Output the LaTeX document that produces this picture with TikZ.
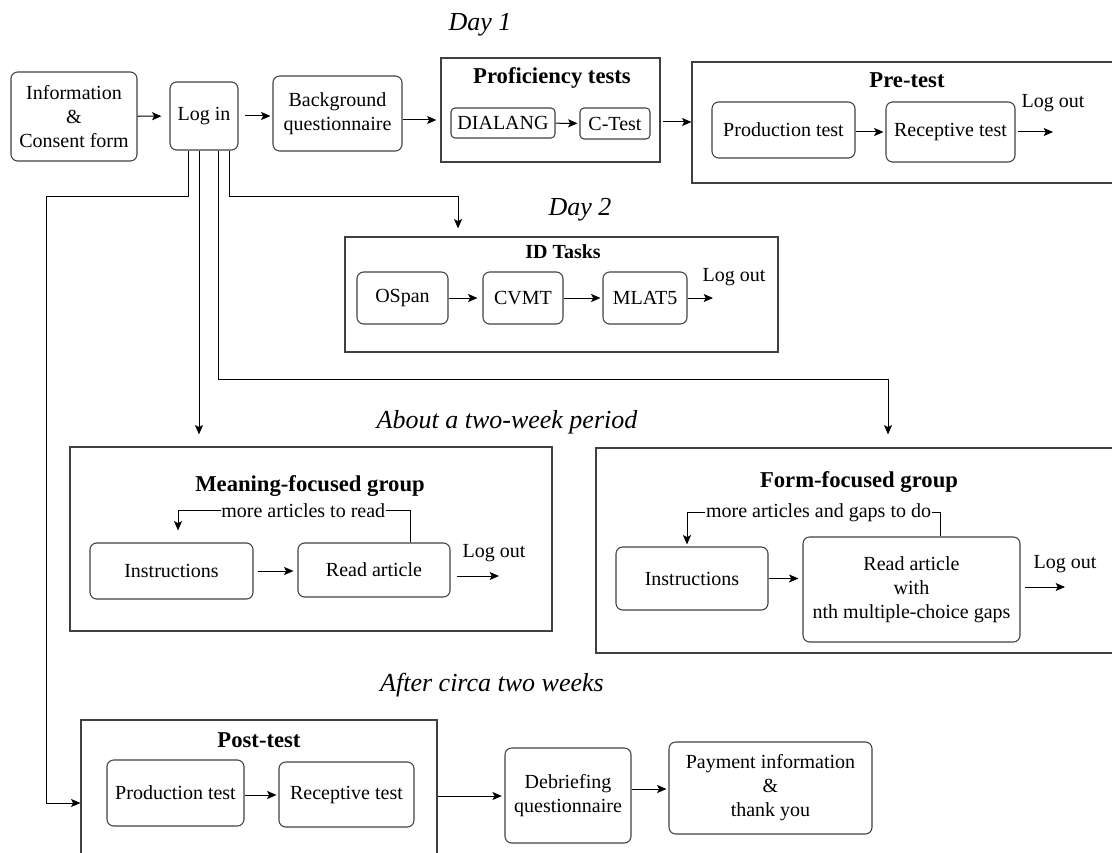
\documentclass[tikz,border=0pt]{standalone}
\usepackage{fontspec}
\setmainfont{Liberation Serif}
\usetikzlibrary{arrows.meta, calc}

\begin{document}
\begin{tikzpicture}[x=0.75pt, y=-0.75pt,
    blk/.style={rectangle, rounded corners=5pt, draw=black!75, line width=0.8pt,
                inner sep=1pt, align=center, font=\fontsize{15}{18}\selectfont},
    grp/.style={rectangle, draw=black!75, line width=0.9pt, inner sep=0pt},
    sz/.style 2 args={minimum width=0.75pt*#1, minimum height=0.75pt*#2},
    gtitle/.style={font=\fontsize{17}{20}\selectfont\bfseries, inner sep=0pt},
    when/.style={font=\fontsize{19.5}{22}\selectfont\itshape, inner sep=0pt},
    lout/.style={font=\fontsize{15}{18}\selectfont, inner sep=0pt},
    loopl/.style={font=\fontsize{15}{18}\selectfont, fill=white, inner sep=0.5pt},
    arr/.style={-{Stealth[length=7pt, width=6pt, inset=1.5pt]}, line width=0.75pt}]
  \useasboundingbox (0,0) rectangle (1112,852);
  \clip (0,0) rectangle (1112,852);

  \node[when] (day1) at (480,25) {Day 1};
  \node[when] (day2) at (580,210) {Day 2};
  \node[when] (span) at (507,422) {About a two-week period};
  \node[when] (later) at (492,685) {After circa two weeks};

  \node[blk, sz={126}{89}] (info) at (74,116.5) {Information\\\&\\Consent form};
  \node[blk, sz={68}{68}] (login) at (204,116) {Log in};
  \node[blk, sz={129}{75}] (bgq) at (337.5,113.5) {Background\\questionnaire};

  \node[grp, sz={219}{104}] (prof) at (550.5,110) {};
  \node[gtitle] (proft) at (552,78) {Proficiency tests};
  \node[blk, sz={104}{30}, rounded corners=3pt] (dial) at (503,123) {DIALANG};
  \node[blk, sz={70}{31}, rounded corners=3pt] (ctest) at (615,123.5) {C-Test};

  \node[grp, sz={438}{121}] (pre) at (911,122.5) {};
  \node[gtitle] (pret) at (907,80) {Pre-test};
  \node[blk, sz={143}{56}] (pprod) at (783.5,130) {Production test};
  \node[blk, sz={129}{60}] (prec) at (950.5,132) {Receptive test};
  \node[lout] (prelo) at (1053,103) {Log out};

  \node[grp, sz={433}{115}] (idt) at (561.5,294.5) {};
  \node[gtitle, font=\fontsize{15}{18}\selectfont\bfseries] (idtt) at (563,252) {ID Tasks};
  \node[blk, sz={91}{52}] (ospan) at (402.5,298) {OSpan};
  \node[blk, sz={80}{52}] (cvmt) at (523,298) {CVMT};
  \node[blk, sz={84}{52}] (mlat) at (645,298) {MLAT5};
  \node[lout] (idlo) at (734,277) {Log out};
  \coordinate (idend) at (713,298);

  \node[grp, sz={482}{184}] (mean) at (311,539) {};
  \node[gtitle] (meant) at (310,486) {Meaning-focused group};
  \node[blk, sz={163}{56}] (minst) at (171.5,571) {Instructions};
  \node[blk, sz={152}{54}] (mread) at (374,570) {Read article};
  \node[lout] (meanlo) at (494,553) {Log out};
  \coordinate (meanend) at (499,576);

  \node[grp, sz={584}{205}] (form) at (888,550.5) {};
  \node[gtitle] (formt) at (859,482) {Form-focused group};
  \node[blk, sz={152}{63}] (finst) at (692,578.5) {Instructions};
  \node[blk, sz={217}{105}] (fread) at (911.5,589.5) {Read article\\with\\nth multiple-choice gaps};
  \node[lout] (formlo) at (1065,564) {Log out};
  \coordinate (formend) at (1065,587);

  \node[grp, sz={356}{150}] (post) at (259,795) {};
  \node[gtitle] (postt) at (259,740) {Post-test};
  \node[blk, sz={137}{66}] (qprod) at (175.5,793) {Production test};
  \node[blk, sz={135}{65}] (qrec) at (346.5,794.5) {Receptive test};
  \node[blk, sz={126}{95}] (debrief) at (568,795.5) {Debriefing\\questionnaire};
  \node[blk, sz={203}{92}] (pay) at (770.5,788) {Payment information\\\&\\thank you};

  \draw[arr, shorten >=6pt] (info) -- (login);
  \draw[arr, shorten <=4.5pt, shorten >=1.5pt] (login.east) -- (bgq.west |- login.east);
  \draw[arr, shorten >=3pt] (bgq.east |- 0,120) -- (prof.west |- 0,120);
  \draw[arr, shorten >=1.5pt] (dial) -- (ctest);
  \draw[arr, shorten <=2pt] (prof.east |- 0,122) -- (pre.west |- 0,122);
  \draw[arr, shorten >=1.5pt] (pprod.east |- 0,132) -- (prec.west |- 0,132);
  \draw[arr, shorten <=2pt] (prec.east) -- (prelo.center |- prec.east);

  \draw[arr, shorten >=3.75pt] (ospan) -- (cvmt);
  \draw[arr, shorten >=1.5pt] (cvmt) -- (mlat);
  \draw[arr] (mlat) -- (idend);

  \draw[arr, shorten <=3pt, shorten >=3pt] (minst.east) -- (mread.west |- minst.east);
  \draw[arr, shorten <=5pt] (mread.east |- meanend) -- (meanend);
  \draw[arr, shorten >=9pt] (mread.north -| 410,0) -- ++(0,-32)
    -| node[loopl, pos=0.23] (meanback) {more articles to read} (minst.north -| 178,0);

  \draw[arr, shorten >=3pt] (finst.east) -- (fread.west |- finst.east);
  \draw[arr, shorten <=3pt] (fread.east |- formend) -- (formend);
  \draw[arr, shorten >=1.5pt] (fread.north -| 940,0) -- ++(0,-24)
    -| node[loopl, pos=0.24] (formback) {more articles and gaps to do} (finst.north -| 687,0);

  \draw[arr, shorten >=1.5pt] (qprod.east |- 0,795) -- (qrec.west |- 0,795);
  \draw[arr, shorten >=2pt] (post.east |- 0,796) -- (debrief.west |- 0,796);
  \draw[arr, shorten >=1.5pt] (debrief.east |- 0,789) -- (pay.west |- 0,789);

  \coordinate (lo1) at ($(login.south)+(-16,0)$);
  \coordinate (lo2) at ($(login.south)+(-5,0)$);
  \coordinate (lo3) at ($(login.south)+(14,0)$);
  \coordinate (lo4) at ($(login.south)+(25,0)$);
  \draw[arr] (lo1) -- ++(0,46) -| ([xshift=-25.5pt, yshift=-6pt]post.west) -- ([yshift=-6pt]post.west);
  \draw[arr, shorten >=9pt] (lo2) -- (lo2 |- mean.north);
  \draw[arr, shorten >=9.75pt] (lo3) -- ++(0,229) -| (form.north);
  \draw[arr, shorten >=6pt] (lo4) -- ++(0,46) -| ([xshift=-77.6pt]idt.north);
\end{tikzpicture}
\end{document}
